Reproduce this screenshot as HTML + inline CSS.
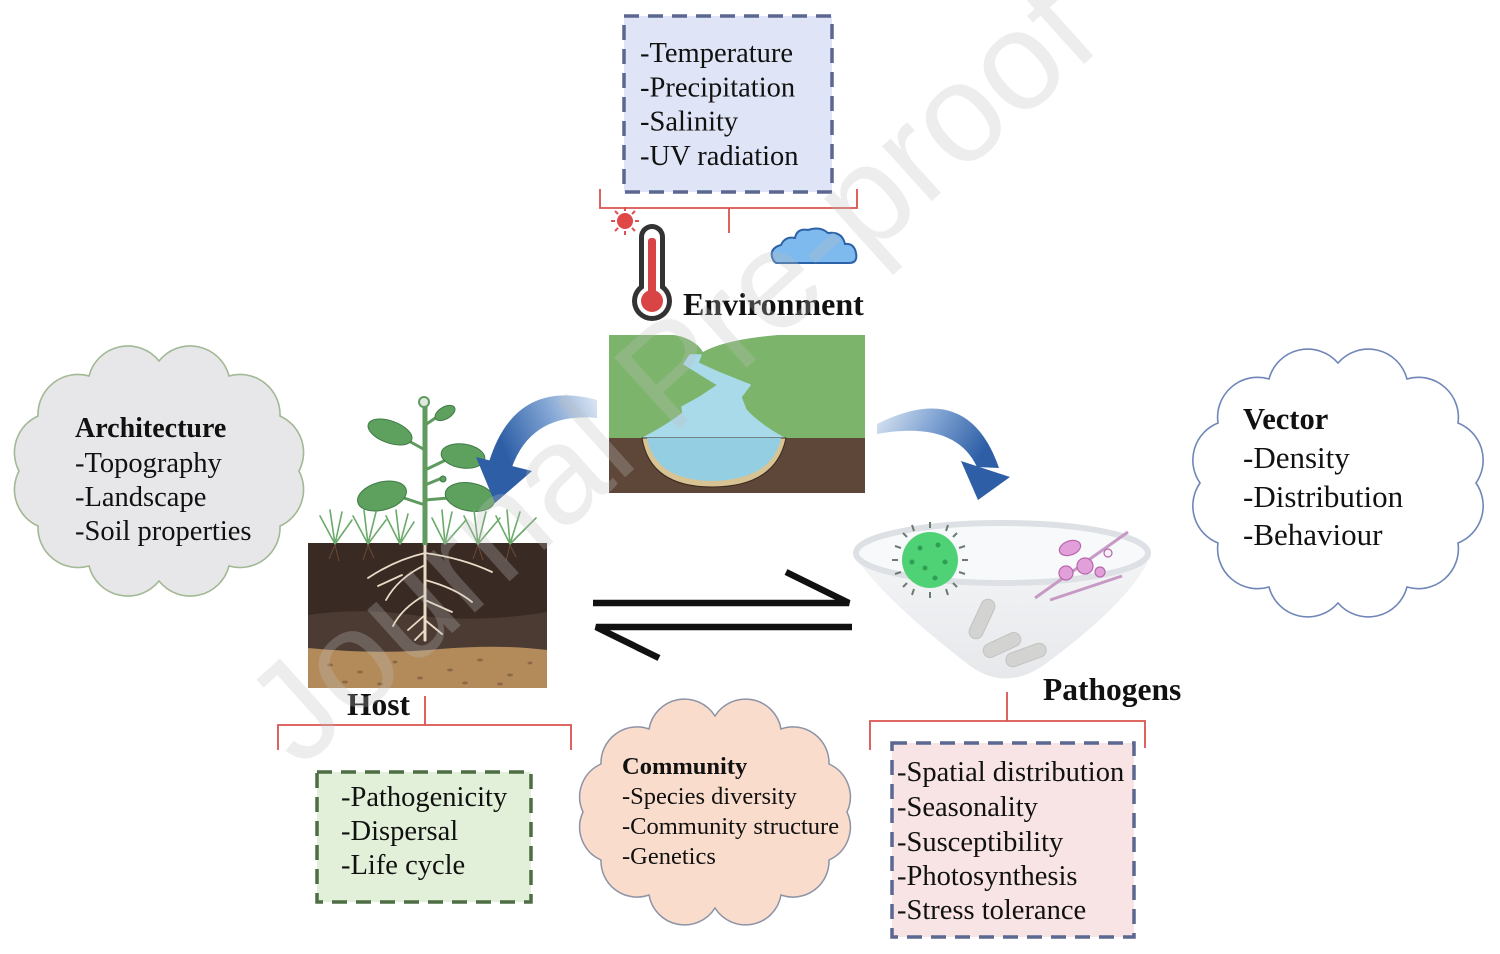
<!DOCTYPE html>
<html><head><meta charset="utf-8"><style>
html,body{margin:0;padding:0;background:#fff;}
svg{display:block;}
text{font-family:"Liberation Serif","Times New Roman",serif;fill:#111;}
.b{font-weight:bold;}
</style></head><body>
<svg width="1500" height="954" viewBox="0 0 1500 954" xmlns="http://www.w3.org/2000/svg">
<defs>
<linearGradient id="gL" x1="1" y1="0" x2="0" y2="0.3">
<stop offset="0" stop-color="#dfe8f4"/><stop offset="0.5" stop-color="#7ea2d2"/><stop offset="1" stop-color="#2d5ea6"/>
</linearGradient>
<linearGradient id="gR" x1="0" y1="0" x2="1" y2="0.3">
<stop offset="0" stop-color="#dfe8f4"/><stop offset="0.5" stop-color="#7ea2d2"/><stop offset="1" stop-color="#2d5ea6"/>
</linearGradient>
<linearGradient id="gF" x1="0" y1="0" x2="0" y2="1">
<stop offset="0" stop-color="#f3f4f6"/><stop offset="1" stop-color="#e6e8eb"/>
</linearGradient>
</defs>

<!-- Environment box -->
<rect x="624" y="16" width="208" height="176" fill="#dfe5f6" stroke="#5b6790" stroke-width="3.5" stroke-dasharray="15 9"/>
<text x="640" y="62" font-size="28.5">-Temperature</text>
<text x="640" y="96.5" font-size="28.5">-Precipitation</text>
<text x="640" y="130.5" font-size="28.5">-Salinity</text>
<text x="640" y="165" font-size="28.5">-UV radiation</text>
<path d="M600,189 L600,208 L857,208 L857,189 M729,208 L729,233" fill="none" stroke="#d9534f" stroke-width="1.8"/>

<!-- sun -->
<g stroke="#e05050" stroke-width="2">
<line x1="625" y1="207" x2="625" y2="211"/><line x1="625" y1="231" x2="625" y2="235"/>
<line x1="611" y1="221" x2="615" y2="221"/><line x1="635" y1="221" x2="639" y2="221"/>
<line x1="615" y1="211" x2="618" y2="214"/><line x1="632" y1="228" x2="635" y2="231"/>
<line x1="635" y1="211" x2="632" y2="214"/><line x1="615" y1="231" x2="618" y2="228"/>
</g>
<circle cx="625" cy="221" r="8" fill="#e04848"/>
<!-- thermometer -->
<rect x="639" y="224" width="26" height="80" rx="13" fill="#333"/>
<circle cx="652" cy="301" r="20" fill="#333"/>
<rect x="644" y="229" width="16" height="72" rx="8" fill="#fff"/>
<circle cx="652" cy="301" r="15" fill="#fff"/>
<rect x="648" y="238" width="8" height="62" rx="3" fill="#d94545"/>
<circle cx="652" cy="301" r="11" fill="#d94545"/>
<!-- cloud icon -->
<path d="M777,263 L849,263 Q858,263 856,253 Q854,243 845,244 Q842,231 828,233 Q820,226 808,230 Q797,228 795,238 Q785,236 781,245 Q770,248 772,257 Q774,263 777,263 Z" fill="#7ebaee" stroke="#2e62a8" stroke-width="2"/>

<text x="683" y="315" font-size="32" class="b">Environment</text>

<!-- Landscape -->
<rect x="609" y="335" width="256" height="158" fill="#7cb46b"/>
<path d="M668,334 Q694,337 703,352 Q728,338 792,334 Z" fill="#fff"/>
<rect x="609" y="438" width="256" height="55" fill="#5e4638"/>
<path d="M690,355 L701,355 L698,363 L720,373 L750,385 L741,397 L746,410 Q760,425 784,438 L643,438 Q668,425 683,413 L682,407 L700,397 L718,385 L700,374 L684,364 Z" fill="#a9daea" stroke="#a9daea" stroke-width="1.5" stroke-linejoin="round"/>
<path d="M642,438 Q650,487 712,487 Q776,487 786,438 Z" fill="#d8c394" stroke="#3b2a20" stroke-width="1"/>
<path d="M647,438 Q655,480 712,481 Q772,480 781,438 Z" fill="#94cee2"/>

<!-- Left cloud -->
<path d="M299,471 A40,40 0 0 1 280,526 A40,40 0 0 1 229,566 A40,40 0 0 1 159,581 A40,40 0 0 1 89,566 A40,40 0 0 1 38,526 A40,40 0 0 1 19,471 A40,40 0 0 1 38,416 A40,40 0 0 1 89,376 A40,40 0 0 1 159,361 A40,40 0 0 1 229,376 A40,40 0 0 1 280,416 A40,40 0 0 1 299,471 Z" fill="#e7e7e9" stroke="#a3b894" stroke-width="1.6"/>
<text x="75" y="437" font-size="28" class="b">Architecture</text>
<text x="75" y="472" font-size="28.5">-Topography</text>
<text x="75" y="506" font-size="28.5">-Landscape</text>
<text x="75" y="540" font-size="28.5">-Soil properties</text>

<!-- Right cloud -->
<path d="M1476,483 A40,40 0 0 1 1458,543 A40,40 0 0 1 1407,587 A40,40 0 0 1 1338,603 A40,40 0 0 1 1269,587 A40,40 0 0 1 1218,543 A40,40 0 0 1 1200,483 A40,40 0 0 1 1218,423 A40,40 0 0 1 1269,379 A40,40 0 0 1 1338,363 A40,40 0 0 1 1407,379 A40,40 0 0 1 1458,423 A40,40 0 0 1 1476,483 Z" fill="#fff" stroke="#7086b8" stroke-width="1.6"/>
<text x="1243" y="429" font-size="30.5" class="b">Vector</text>
<text x="1243" y="468" font-size="31">-Density</text>
<text x="1243" y="507" font-size="31">-Distribution</text>
<text x="1243" y="545" font-size="31">-Behaviour</text>

<!-- Soil block -->
<rect x="308" y="543" width="239" height="145" fill="#3a2a24"/>
<path d="M308,615 Q360,607 420,616 Q480,623 547,612 L547,652 L308,652 Z" fill="#4c3b33"/>
<path d="M308,648 Q380,655 440,649 Q500,644 547,650 L547,688 L308,688 Z" fill="#b38a5a"/>
<g fill="#8a6a45">
<ellipse cx="330" cy="665" rx="3" ry="1.5"/><ellipse cx="360" cy="672" rx="3" ry="1.5"/><ellipse cx="395" cy="662" rx="2.5" ry="1.5"/>
<ellipse cx="450" cy="670" rx="3" ry="1.5"/><ellipse cx="480" cy="660" rx="3" ry="1.5"/><ellipse cx="510" cy="675" rx="3" ry="1.5"/>
<ellipse cx="530" cy="663" rx="2.5" ry="1.5"/><ellipse cx="420" cy="678" rx="3" ry="1.5"/><ellipse cx="345" cy="682" rx="3" ry="1.5"/>
<ellipse cx="465" cy="683" rx="3" ry="1.5"/><ellipse cx="500" cy="684" rx="3" ry="1.5"/><ellipse cx="380" cy="684" rx="3" ry="1.5"/>
</g>
<g stroke="#6b4a35" stroke-width="1" fill="none">
<path d="M335,545 l-6,14 M335,545 l4,16 M368,545 l-5,15 M368,545 l6,13 M478,545 l-5,14 M478,545 l5,15 M510,545 l-4,16 M510,545 l6,12"/>
</g>
<g stroke="#e9dcc6" fill="none" stroke-linecap="round">
<path d="M425,545 L425,640" stroke-width="3"/>
<path d="M425,553 Q395,560 368,578 M425,553 Q462,558 492,572 M425,565 Q398,578 386,600 M402,575 L378,586 M425,580 Q455,588 472,602 M425,595 Q402,608 393,626 M425,600 L452,612 M425,615 L408,630 M425,620 L442,634 M425,630 L415,640" stroke-width="1.8"/>
</g>
<path d="M425,545 L425,404" stroke="#5f9a5e" stroke-width="5"/>
<circle cx="424" cy="402" r="5" fill="#dfe9e0" stroke="#5f9a5e" stroke-width="2"/>
<g stroke="#5f9a5e" stroke-width="3" fill="none">
<path d="M425,450 L400,436 M425,425 L440,415 M425,470 L450,458 M425,505 L395,495 M425,500 L460,497 M425,485 L442,478"/>
</g>
<g fill="#5ea05e" stroke="#3f7a45" stroke-width="1">
<ellipse cx="390" cy="432" rx="23" ry="11" transform="rotate(20 390 432)"/>
<ellipse cx="445" cy="413" rx="11" ry="6" transform="rotate(-30 445 413)"/>
<ellipse cx="463" cy="456" rx="22" ry="12" transform="rotate(8 463 456)"/>
<ellipse cx="382" cy="496" rx="25" ry="14" transform="rotate(-15 382 496)"/>
<ellipse cx="470" cy="497" rx="25" ry="14" transform="rotate(10 470 497)"/>
<circle cx="443" cy="479" r="3"/>
</g>
<g stroke="#6aaa6a" stroke-width="1.6" fill="none" stroke-linecap="round">
<path d="M335,544 L320,516 M335,544 L330,510 M335,544 L342,512 M335,544 L352,520"/>
<path d="M368,544 L353,516 M368,544 L364,510 M368,544 L376,512 M368,544 L386,520"/>
<path d="M400,544 L386,516 M400,544 L396,510 M400,544 L408,514 M400,544 L414,522"/>
<path d="M445,544 L432,518 M445,544 L442,510 M445,544 L452,512 M445,544 L466,520"/>
<path d="M478,544 L464,516 M478,544 L474,510 M478,544 L486,512 M478,544 L500,518"/>
<path d="M510,544 L496,516 M510,544 L507,510 M510,544 L520,512 M510,544 L536,518"/>
</g>

<!-- blue arrows -->
<path d="M597,400 Q515,378 489,462 L512,467 Q532,412 597,418 Z" fill="url(#gL)"/>
<path d="M476,457 L532,471 L495,503 Z" fill="#2d5ea6"/>
<path d="M877,424 Q968,378 999,468 L977,467 Q955,420 877,434 Z" fill="url(#gR)"/>
<path d="M961,461 L1010,477 L978,500 Z" fill="#2d5ea6"/>

<!-- equilibrium arrows -->
<path d="M593,603 L849,603 L786,572" fill="none" stroke="#111" stroke-width="6.5" stroke-linejoin="miter"/>
<path d="M852,627 L596,627 L659,658" fill="none" stroke="#111" stroke-width="6.5" stroke-linejoin="miter"/>

<!-- funnel -->
<path d="M856,558 Q885,600 965,662 Q1005,695 1048,662 Q1125,605 1148,562 Z" fill="url(#gF)"/>
<ellipse cx="1002" cy="553" rx="146" ry="30" fill="#f8f9fa" stroke="#dde0e4" stroke-width="6"/>
<g fill="#d3d4d1" stroke="#c2c3c0" stroke-width="1">
<rect x="975" y="598" width="14" height="42" rx="7" transform="rotate(25 982 619)"/>
<rect x="982" y="638" width="40" height="14" rx="7" transform="rotate(-25 1002 645)"/>
<rect x="1005" y="648" width="42" height="14" rx="7" transform="rotate(-20 1026 655)"/>
</g>
<g stroke="#6b7b72" stroke-width="2">
<line x1="930" y1="528" x2="930" y2="522"/><line x1="930" y1="592" x2="930" y2="598"/>
<line x1="898" y1="560" x2="892" y2="560"/><line x1="962" y1="560" x2="968" y2="560"/>
<line x1="907" y1="537" x2="903" y2="533"/><line x1="953" y1="583" x2="957" y2="587"/>
<line x1="953" y1="537" x2="957" y2="533"/><line x1="907" y1="583" x2="903" y2="587"/>
<line x1="914" y1="531" x2="912" y2="525"/><line x1="946" y1="589" x2="948" y2="595"/>
<line x1="946" y1="531" x2="948" y2="525"/><line x1="914" y1="589" x2="912" y2="595"/>
<line x1="901" y1="548" x2="895" y2="546"/><line x1="959" y1="572" x2="965" y2="574"/>
<line x1="959" y1="548" x2="965" y2="546"/><line x1="901" y1="572" x2="895" y2="574"/>
</g>
<circle cx="930" cy="560" r="28" fill="#4fd175"/>
<g fill="#2e9f52">
<circle cx="920" cy="548" r="2.5"/><circle cx="938" cy="545" r="2.5"/><circle cx="945" cy="562" r="2.5"/>
<circle cx="925" cy="568" r="2.5"/><circle cx="935" cy="578" r="2.5"/><circle cx="912" cy="562" r="2.5"/>
</g>
<g stroke="#c79ac5" stroke-width="3" fill="none">
<path d="M1035,598 L1128,532"/><path d="M1050,600 L1122,576"/>
</g>
<g fill="#e2a0db" stroke="#b866ae" stroke-width="1.2">
<ellipse cx="1070" cy="548" rx="11" ry="7" transform="rotate(-20 1070 548)"/>
<circle cx="1085" cy="566" r="8"/><circle cx="1066" cy="573" r="7"/><circle cx="1100" cy="572" r="5"/>
<circle cx="1108" cy="553" r="4" fill="#f2f2f2"/>
</g>

<text x="1043" y="700" font-size="31.5" class="b">Pathogens</text>
<text x="347" y="715" font-size="31.5" class="b">Host</text>

<path d="M278,750 L278,725 L571,725 L571,750 M425,725 L425,696" fill="none" stroke="#d9534f" stroke-width="1.8"/>
<path d="M870,750 L870,721 L1145,721 L1145,748 M1007,721 L1007,692" fill="none" stroke="#d9534f" stroke-width="1.8"/>

<!-- Host box -->
<rect x="317" y="772" width="214" height="130" fill="#e2f0d9" stroke="#4d6e44" stroke-width="3.5" stroke-dasharray="15 9"/>
<text x="341" y="806" font-size="28.5">-Pathogenicity</text>
<text x="341" y="840" font-size="28.5">-Dispersal</text>
<text x="341" y="874" font-size="28.5">-Life cycle</text>

<!-- Community cloud -->
<path d="M847,812 A36,36 0 0 1 829,860 A36,36 0 0 1 781,895 A36,36 0 0 1 715,908 A36,36 0 0 1 649,895 A36,36 0 0 1 601,860 A36,36 0 0 1 583,812 A36,36 0 0 1 601,764 A36,36 0 0 1 649,729 A36,36 0 0 1 715,716 A36,36 0 0 1 781,729 A36,36 0 0 1 829,764 A36,36 0 0 1 847,812 Z" fill="#f9dccc" stroke="#8d93a6" stroke-width="1.5"/>
<text x="622" y="774" font-size="24.5" class="b">Community</text>
<text x="622" y="804" font-size="24.5">-Species diversity</text>
<text x="622" y="834" font-size="24.5">-Community structure</text>
<text x="622" y="864" font-size="24.5">-Genetics</text>

<!-- Pathogens box -->
<rect x="892" y="743" width="242" height="194" fill="#f8e4e4" stroke="#5b6790" stroke-width="3.5" stroke-dasharray="15 9"/>
<text x="897" y="781" font-size="28.5">-Spatial distribution</text>
<text x="897" y="816" font-size="28.5">-Seasonality</text>
<text x="897" y="851" font-size="28.5">-Susceptibility</text>
<text x="897" y="885" font-size="28.5">-Photosynthesis</text>
<text x="897" y="919" font-size="28.5">-Stress tolerance</text>

<!-- watermark -->
<text x="300" y="770" font-size="140" transform="rotate(-42 300 770)" style="font-family:'Liberation Sans',Arial,sans-serif;fill:#c0c0c0;opacity:0.28">Journal Pre-proof</text>
</svg>
</body></html>
